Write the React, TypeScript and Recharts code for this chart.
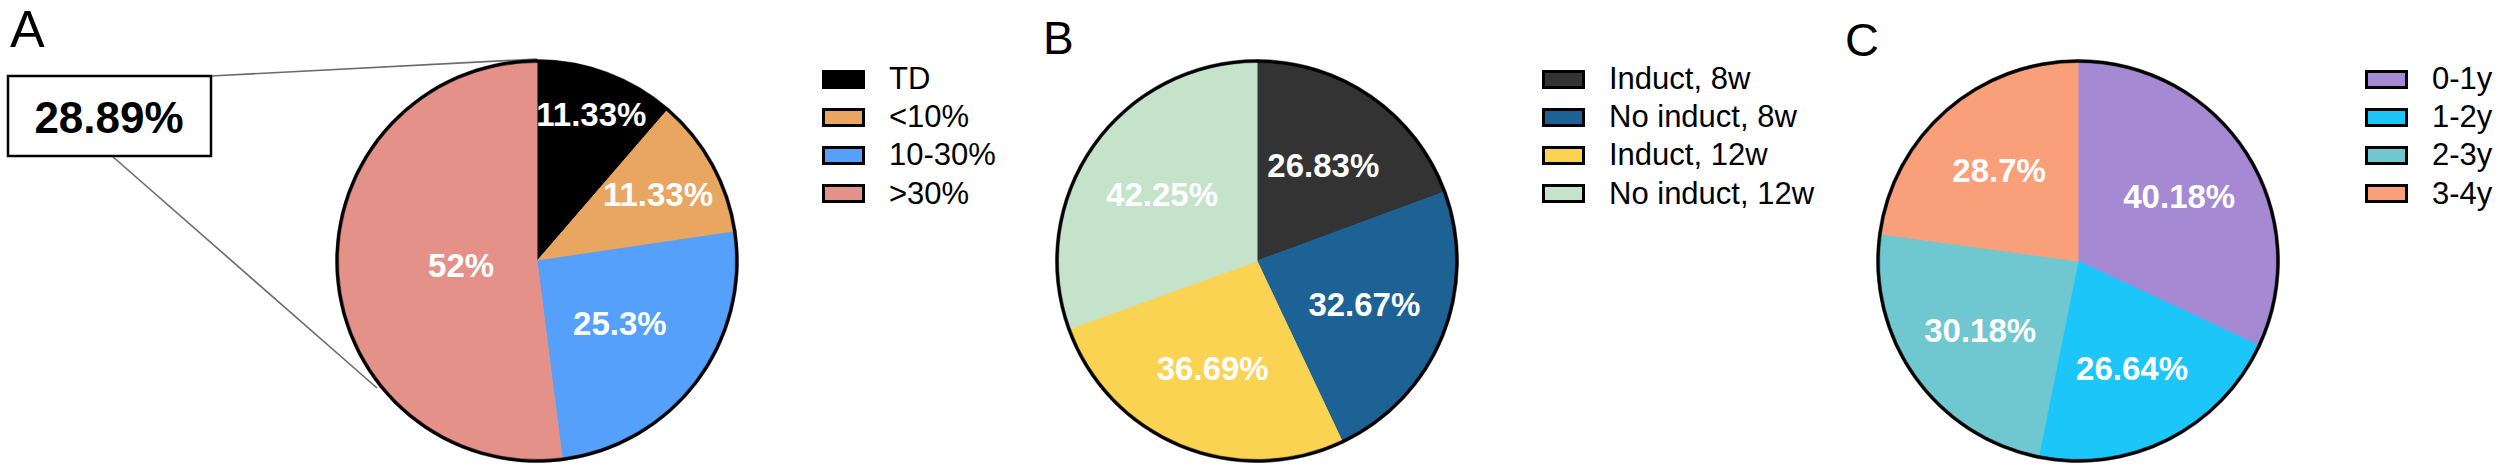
import React from 'react';
import { PieChart, Pie, Cell, Legend } from 'recharts';

// panel A
const categoriesA = ['TD', '<10%', '10-30%', '>30%'];
const valuesA = [11.33, 11.33, 25.3, 52];
const calloutA = '28.89%';

// panel B
const categoriesB = ['Induct, 8w', 'No induct, 8w', 'Induct, 12w', 'No induct, 12w'];
const valuesB = [26.83, 32.67, 36.69, 42.25];

// panel C
const categoriesC = ['0-1y', '1-2y', '2-3y', '3-4y'];
const valuesC = [40.18, 26.64, 30.18, 28.7];

const colorsA = ['#000000', '#E9A660', '#55A0FB', '#E4918A'];
const colorsB = ['#333333', '#1D6295', '#FBD352', '#C5E3CB'];
const colorsC = ['#A58AD3', '#1CC6F9', '#6FC7CF', '#F9A07B'];

// label distance from centre, as fraction of the radius
const labelRadiusA = [0.78, 0.69, 0.52, 0.38];
const labelRadiusB = [0.58, 0.58, 0.58, 0.58];
const labelRadiusC = [0.6, 0.6, 0.6, 0.6];

const RADIAN = Math.PI / 180;
const HEIGHT = 475;
const CY = 261;
const R = 200;
const FONT = '"Liberation Sans", Arial, sans-serif';

const SwatchLegend = ({ names, colors }: { names: string[]; colors: string[] }) => (
  <div style={{ fontFamily: FONT }}>
    {names.map((name, i) => (
      <div key={name} style={{ display: 'flex', alignItems: 'center', height: 38.2 }}>
        <div
          style={{
            width: 43,
            height: 19,
            boxSizing: 'border-box',
            border: '3px solid #000',
            background: colors[i],
            marginRight: 24,
          }}
        />
        <span style={{ fontSize: 31, color: '#000', whiteSpace: 'nowrap' }}>{name}</span>
      </div>
    ))}
  </div>
);

interface PanelProps {
  names: string[];
  values: number[];
  colors: string[];
  labelRadius: number[];
  left: number;
  width: number;
  cx: number;
  legendLeft: number;
}

const PiePanel: React.FC<PanelProps> = ({ names, values, colors, labelRadius, left, width, cx, legendLeft }) => {
  const data = names.map((name, i) => ({ name, value: values[i] }));

  const renderLabel = (props: any) => {
    const { cx: x0, cy: y0, midAngle, outerRadius, index, value } = props;
    const r = outerRadius * labelRadius[index];
    const x = x0 + r * Math.cos(-midAngle * RADIAN);
    const y = y0 + r * Math.sin(-midAngle * RADIAN);
    return (
      <text
        x={x}
        y={y}
        fill="#fff"
        textAnchor="middle"
        dominantBaseline="central"
        fontSize={33}
        fontWeight="bold"
        fontFamily={FONT}
      >
        {value}%
      </text>
    );
  };

  return (
    <div style={{ position: 'absolute', left, top: 0 }}>
      <PieChart width={width} height={HEIGHT} margin={{ top: 0, right: 0, bottom: 0, left: 0 }}>
        <Pie
          data={data}
          dataKey="value"
          nameKey="name"
          cx={cx}
          cy={CY}
          outerRadius={R}
          startAngle={90}
          endAngle={-270}
          label={renderLabel}
          labelLine={false}
          isAnimationActive={false}
        >
          {colors.map((c, i) => (
            <Cell key={i} fill={c} stroke={c} strokeWidth={1} />
          ))}
        </Pie>
        {/* black outline */}
        <Pie
          data={data}
          dataKey="value"
          cx={cx}
          cy={CY}
          innerRadius={R - 1.5}
          outerRadius={R + 1.5}
          startAngle={90}
          endAngle={-270}
          fill="#000"
          stroke="#000"
          strokeWidth={0.5}
          legendType="none"
          isAnimationActive={false}
        />
        <Legend
          layout="vertical"
          align="right"
          verticalAlign="top"
          wrapperStyle={{ left: legendLeft, top: 60, right: 'auto', width: 'auto' }}
          content={() => <SwatchLegend names={names} colors={colors} />}
        />
      </PieChart>
    </div>
  );
};

export default function App() {
  return (
    <div
      style={{
        position: 'absolute',
        left: 0,
        top: 0,
        width: 2505,
        height: HEIGHT,
        background: '#fff',
        fontFamily: FONT,
      }}
    >
      <svg width={2505} height={HEIGHT} style={{ position: 'absolute', left: 0, top: 0 }}>
        <text x={10} y={47} fontSize={52} fontFamily={FONT} fill="#000">A</text>
        <text x={1043} y={54} fontSize={46} fontFamily={FONT} fill="#000">B</text>
        <text x={1845} y={56} fontSize={47} fontFamily={FONT} fill="#000">C</text>
        <line x1={211} y1={76} x2={537} y2={59} stroke="#6b6b6b" strokeWidth={1.6} />
        <line x1={112} y1={156} x2={377} y2={388} stroke="#6b6b6b" strokeWidth={1.6} />
        <rect x={8} y={76} width={203} height={80} fill="#fff" stroke="#000" strokeWidth={2.5} />
        <text
          x={109}
          y={117}
          textAnchor="middle"
          dominantBaseline="central"
          fontSize={44}
          fontWeight="bold"
          fontFamily={FONT}
          fill="#000"
        >
          {calloutA}
        </text>
      </svg>
      <PiePanel
        names={categoriesA}
        values={valuesA}
        colors={colorsA}
        labelRadius={labelRadiusA}
        left={0}
        width={1040}
        cx={537}
        legendLeft={822}
      />
      <PiePanel
        names={categoriesB}
        values={valuesB}
        colors={colorsB}
        labelRadius={labelRadiusB}
        left={1040}
        width={820}
        cx={217}
        legendLeft={502}
      />
      <PiePanel
        names={categoriesC}
        values={valuesC}
        colors={colorsC}
        labelRadius={labelRadiusC}
        left={1860}
        width={645}
        cx={218}
        legendLeft={505}
      />
    </div>
  );
}
